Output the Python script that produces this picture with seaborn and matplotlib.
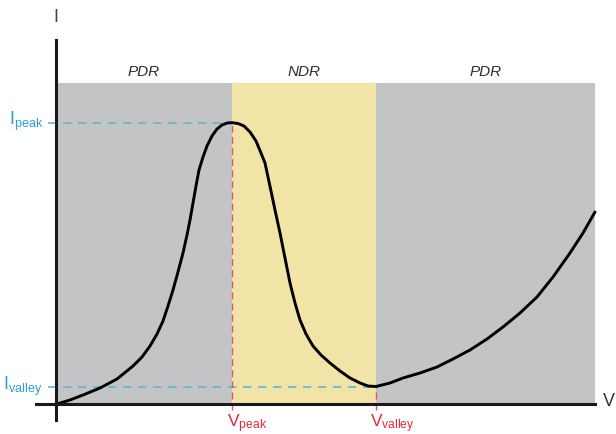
import matplotlib
matplotlib.use("Agg")
import matplotlib.pyplot as plt
import seaborn as sns
import pandas as pd

# I-V curve (arbitrary units, origin at axes crossing)
v_vals = [0.01, 0.14, 0.27, 0.44, 0.61, 0.77, 0.86, 0.94, 1.01, 1.07, 1.12,
          1.17, 1.22, 1.27, 1.31, 1.34, 1.37, 1.40, 1.43, 1.47, 1.51, 1.56,
          1.61, 1.66, 1.71, 1.76, 1.82, 1.88, 1.94, 2.00, 2.05, 2.09, 2.12,
          2.15, 2.19, 2.24, 2.29, 2.34, 2.39, 2.44, 2.50, 2.57, 2.65, 2.74,
          2.84, 2.94, 3.04, 3.12, 3.20, 3.34, 3.47, 3.64, 3.81, 3.97, 4.14,
          4.31, 4.47, 4.64, 4.81, 4.97, 5.14, 5.27, 5.39]
i_vals = [0.00, 0.04, 0.09, 0.16, 0.25, 0.38, 0.47, 0.58, 0.70, 0.83, 0.98,
          1.14, 1.32, 1.51, 1.69, 1.84, 2.01, 2.18, 2.34, 2.47, 2.58, 2.68,
          2.75, 2.79, 2.81, 2.813, 2.805, 2.78, 2.72, 2.63, 2.51, 2.41, 2.27,
          2.13, 1.94, 1.71, 1.46, 1.21, 1.01, 0.84, 0.70, 0.58, 0.49, 0.41,
          0.33, 0.26, 0.21, 0.18, 0.175, 0.21, 0.26, 0.31, 0.37, 0.45, 0.54,
          0.65, 0.77, 0.91, 1.07, 1.27, 1.51, 1.71, 1.92]

v_peak, v_valley = 1.76, 3.20
i_peak, i_valley = 2.81, 0.175

region_edges = [0.0, v_peak, v_valley, 5.39]
region_names = ["PDR", "NDR", "PDR"]
region_colors = ["#c3c4c6", "#f1e4a6", "#c3c4c6"]
region_top = 3.21

sns.set_style("white")
plt.rcParams["font.family"] = ["Liberation Sans", "DejaVu Sans"]
plt.rcParams["mathtext.fontset"] = "custom"
plt.rcParams["mathtext.rm"] = "Liberation Sans"

fig = plt.figure(figsize=(6.16, 4.34), dpi=100)
ax = fig.add_axes([0, 0, 1, 1])

# shaded regions
for k, name in enumerate(region_names):
    x0, x1 = region_edges[k], region_edges[k + 1]
    ax.fill_between([x0, x1], 0, region_top, color=region_colors[k], lw=0, zorder=1)
    ax.text((x0 + x1) / 2, region_top + 0.115, name, ha="center", va="center",
            fontsize=11, style="italic", color="#2e2e2e")

df = pd.DataFrame({"V": v_vals, "I": i_vals})
sns.lineplot(data=df, x="V", y="I", sort=False, estimator=None, color="black",
             lw=2.1, ax=ax, zorder=4)

# guide lines
blue = "#5db6d8"
red = "#e8506a"
ax.hlines(i_peak, -0.08, v_peak, colors=blue, linestyles=(0, (5, 4)), lw=1.2, zorder=3)
ax.hlines(i_valley, -0.08, v_valley, colors=blue, linestyles=(0, (5, 4)), lw=1.2, zorder=3)
ax.vlines(v_peak, -0.06, i_peak, colors=red, linestyles=(0, (5, 3)), lw=1.0, zorder=3)
ax.vlines(v_valley, -0.06, i_valley, colors=red, linestyles=(0, (5, 3)), lw=1.0, zorder=3)

# labels
ax.text(-0.12, i_peak - 0.02, r"$\mathregular{I_{peak}}$", ha="right", va="baseline",
        fontsize=13, color="#2a9fd8")
ax.text(-0.14, i_valley - 0.04, r"$\mathregular{I_{valley}}$", ha="right", va="baseline",
        fontsize=13, color="#2a9fd8")
ax.text(v_peak - 0.05, -0.23, r"$\mathregular{V_{peak}}$", ha="left", va="baseline",
        fontsize=12.5, color="#e8283c")
ax.text(v_valley - 0.06, -0.23, r"$\mathregular{V_{valley}}$", ha="left", va="baseline",
        fontsize=12.5, color="#e8283c")
ax.text(0, 3.86, "I", ha="center", va="center", fontsize=13, color="#444444")
ax.text(5.47, 0.03, "V", ha="left", va="center", fontsize=13, color="#333333")

# axes through the origin
ax.set_xlim(-0.56, 5.60)
ax.set_ylim(-0.30, 4.04)
ax.set_xticks([])
ax.set_yticks([])
ax.set_xlabel("")
ax.set_ylabel("")
for side in ["top", "right"]:
    ax.spines[side].set_visible(False)
ax.spines["left"].set_position(("data", 0))
ax.spines["bottom"].set_position(("data", 0))
ax.spines["left"].set_bounds(-0.16, 3.64)
ax.spines["bottom"].set_bounds(-0.20, 5.39)
for side in ["left", "bottom"]:
    ax.spines[side].set_linewidth(2.2)
    ax.spines[side].set_color("#1a1a1a")
    ax.spines[side].set_zorder(5)

fig.savefig("out.png", dpi=100)
